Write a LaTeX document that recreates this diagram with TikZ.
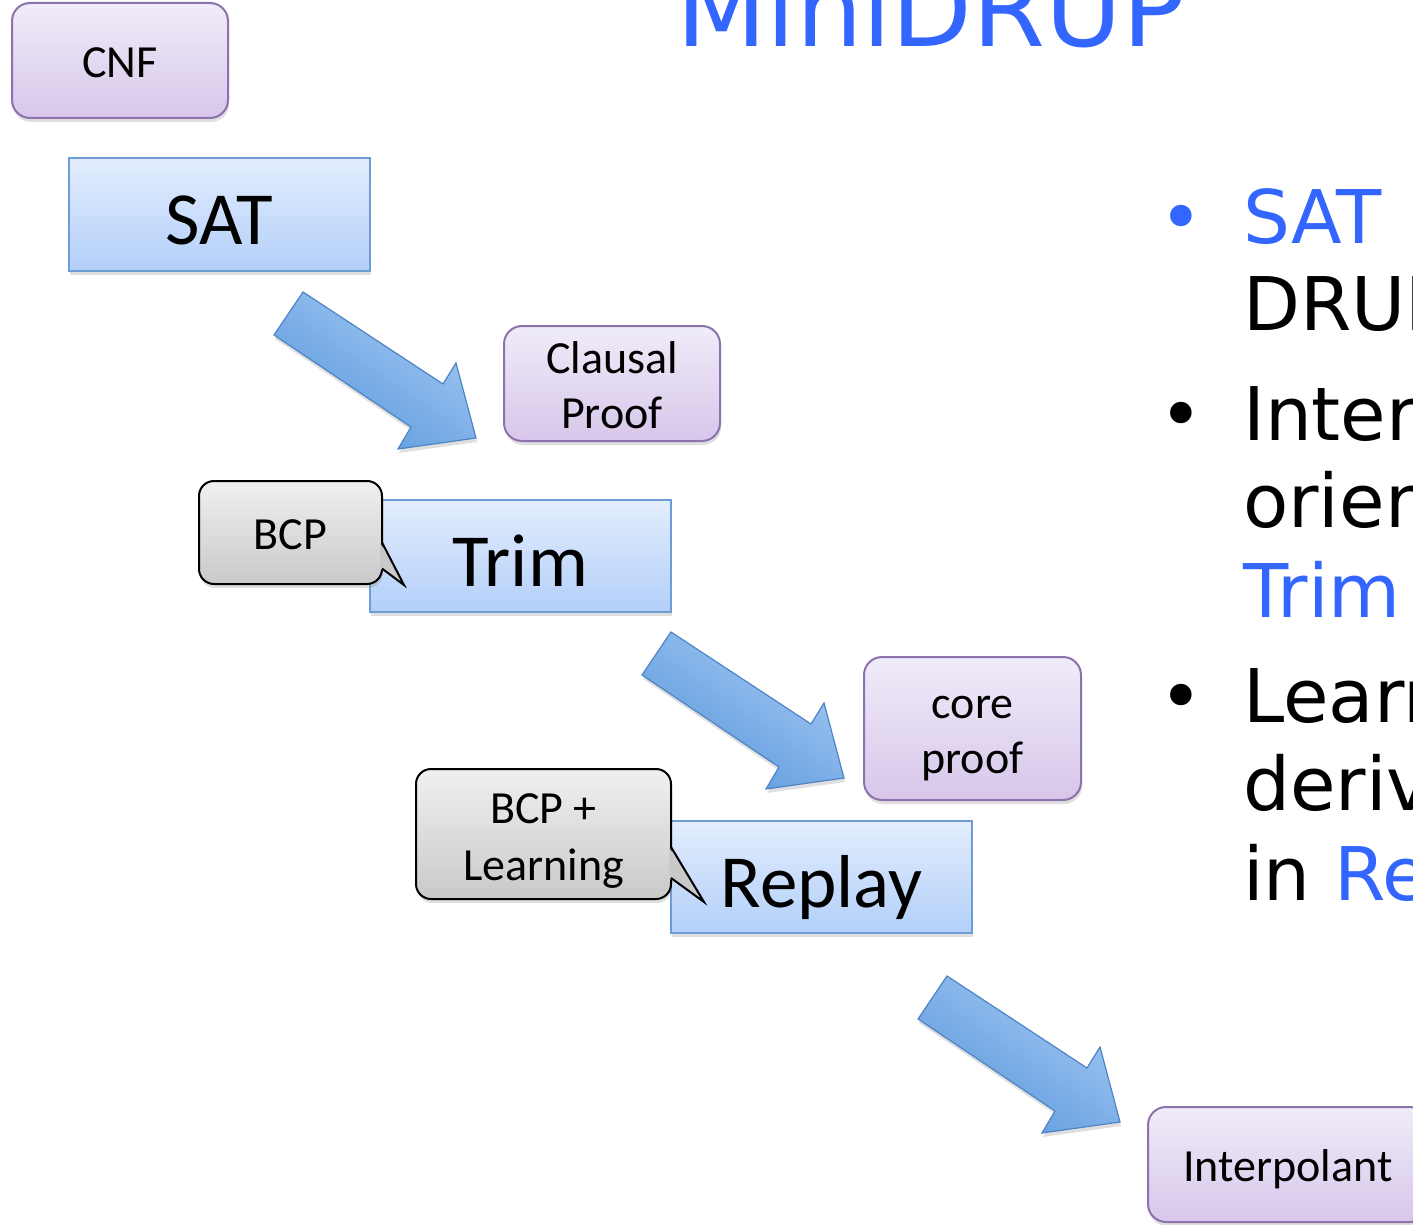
\documentclass[tikz,border=0pt]{standalone}
\usepackage{fontspec}
\usetikzlibrary{calc,shadows}
\newfontfamily\boxfont{Carlito}
\newfontfamily\slidefont{DejaVu Sans}
\definecolor{slideblue}{HTML}{3366FF}
\definecolor{dataedge}{HTML}{8E72AE}
\definecolor{datatop}{HTML}{F0ECF9}
\definecolor{databot}{HTML}{D7C6EA}
\definecolor{stageedge}{HTML}{6E9DD6}
\definecolor{stagetop}{HTML}{E3EDFD}
\definecolor{stagebot}{HTML}{B2CFF9}
\definecolor{notetop}{HTML}{F0F0F0}
\definecolor{notebot}{HTML}{C9C9C9}
\definecolor{arrowedge}{HTML}{4F84C4}
\definecolor{arrowlight}{HTML}{A4C9F4}
\definecolor{arrowdark}{HTML}{5A98DC}

\tikzset{
  boxshadow/.style={drop shadow={opacity=0.25, shadow xshift=1pt, shadow yshift=-4pt}},
  databox/.style={draw=dataedge, line width=2pt, rounded corners=18pt, top color=datatop, bottom color=databot,
    boxshadow, inner sep=0pt, outer sep=0pt, text height=39pt, text depth=5pt,
    font=\boxfont\fontsize{46}{55}\selectfont, align=center},
  stagebox/.style={draw=stageedge, line width=2pt, top color=stagetop, bottom color=stagebot,
    boxshadow, inner sep=0pt, outer sep=0pt, text height=60pt, text depth=0pt,
    font=\boxfont\fontsize{75}{80}\selectfont},
  notebox/.style={draw=black, line width=2pt, rounded corners=15pt, top color=notetop, bottom color=notebot,
    boxshadow, inner sep=0pt, outer sep=0pt, text height=39pt, text depth=5pt,
    font=\boxfont\fontsize{46}{57}\selectfont, align=center},
  twolines/.style={text height=#1},
  bodytext/.style={font=\slidefont\fontsize{74}{88}\selectfont, anchor=base west, inner sep=0pt},
  bulletmark/.style={font=\slidefont\fontsize{74}{88}\selectfont, anchor=base, inner sep=0pt},
  flowarrow/.pic={
    \draw[draw=arrowedge, line width=1.2pt, top color=arrowlight, bottom color=arrowdark, shading angle=-34, boxshadow]
      (29,0) -- (169,92) -- (182,71) -- (202,146) -- (124,157) -- (137,135) -- (0,43) -- cycle;
  }
}

\begin{document}
\begin{tikzpicture}[x=1pt,y=-1pt]
  \useasboundingbox (0,0) rectangle (1413,1225);
  \fill[white] (0,0) rectangle (1413,1225);
  \clip (0,0) rectangle (1413,1225);

  % title, cut at the top
  \node[anchor=base, inner sep=0pt, text=slideblue, font=\slidefont\fontsize{105}{105}\selectfont] (title) at (931,47) {MiniDRUP};

  % flow
  \node[databox, minimum width=216pt, minimum height=115pt] (cnf) at (120,60.5) {CNF};
  \node[stagebox, minimum width=301pt, minimum height=113pt] (sat) at (219.5,214.5) {SAT};
  \pic at (274,292) {flowarrow};
  \node[databox, twolines=94pt, minimum width=216pt, minimum height=115pt] (clausal) at (612,383.5) {Clausal\\Proof};

  \node[stagebox, minimum width=301pt, minimum height=112pt] (trim) at (520.5,556) {Trim};
  \node[notebox, minimum width=183pt, minimum height=103pt] (bcp) at (290.5,532.5) {BCP};
  \coordinate (bcptip) at (404,585);
  \fill[notebot] ($(bcp.east)+(-2,10)$) -- (bcptip) -- ($(bcp.east)+(-2,36)$) -- cycle;
  \draw[line width=2pt] ($(bcp.east)+(0,10)$) -- (bcptip) -- ($(bcp.east)+(0,36)$);

  \pic at (642,632) {flowarrow};
  \node[databox, twolines=94pt, minimum width=217pt, minimum height=143pt] (core) at (972.5,728.5) {core\\proof};

  \node[stagebox, minimum width=301pt, minimum height=112pt] (replay) at (821.5,877) {Replay};
  \node[notebox, twolines=97pt, minimum width=255pt, minimum height=130pt] (learn) at (543.5,834) {BCP +\\Learning};
  \coordinate (learntip) at (704,902);
  \fill[notebot] ($(learn.east)+(-2,13)$) -- (learntip) -- ($(learn.east)+(-2,44)$) -- cycle;
  \draw[line width=2pt] ($(learn.east)+(0,13)$) -- (learntip) -- ($(learn.east)+(0,44)$);

  \pic at (918,976) {flowarrow};
  \node[databox, minimum width=280pt, minimum height=115pt] (interp) at (1288,1164.5) {Interpolant};

  % bullets, cut at the right
  \node[bulletmark, text=slideblue] (b1) at (1181,243) {•};
  \node[bodytext, text=slideblue] (l1) at (1243,243) {SAT};
  \node[bodytext] (l2) at (1243,330) {DRUP};
  \node[bulletmark] (b2) at (1181,440) {•};
  \node[bodytext] (l3) at (1243,440) {Inter};
  \node[bodytext] (l4) at (1243,527) {orien};
  \node[bodytext, text=slideblue] (l5) at (1243,617) {Trim};
  \node[bulletmark] (b3) at (1181,722) {•};
  \node[bodytext] (l6) at (1243,722) {Learn};
  \node[bodytext] (l7) at (1243,810) {deriv};
  \node[bodytext] (l8) at (1243,900) {in \textcolor{slideblue}{Re}};
\end{tikzpicture}
\end{document}
